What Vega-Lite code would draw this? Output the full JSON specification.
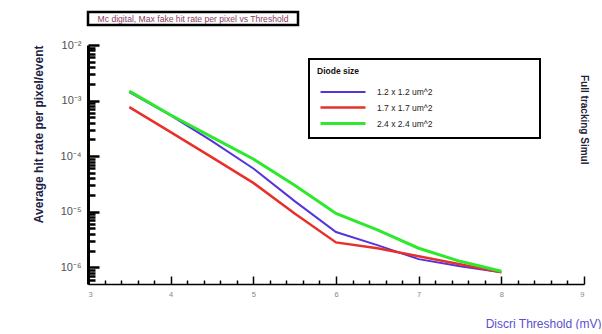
{
  "$schema": "https://vega.github.io/schema/vega-lite/v6.json",
  "padding": {"left": 32, "top": 10, "right": 0, "bottom": 0},
  "background": "white",
  "config": {"font": "Liberation Sans"},
  "columns": 1,
  "align": "none",
  "spacing": 12,
  "concat": [
    {
      "width": 210,
      "height": 13,
      "view": {"stroke": "black", "strokeWidth": 2.5, "fill": "white"},
      "data": {"values": [{"label": "Mc digital, Max fake hit rate per pixel vs Threshold"}]},
      "mark": {"type": "text", "fontSize": 8.6, "color": "#8c3c64", "font": "Liberation Sans"},
      "encoding": {"text": {"field": "label", "type": "nominal"}}
    },
    {
      "width": 496,
      "height": 239,
      "view": {"stroke": null},
      "title": {"text": "Full tracking Simul", "orient": "right", "anchor": "start", "offset": -22, "dx": 36, "fontSize": 10, "fontWeight": "bold", "color": "#222233", "font": "Liberation Sans"},
      "data": {"values": [
        {"size": "1.2 x 1.2 um^2", "threshold": 3.5, "rate": 1.42e-3},
        {"size": "1.2 x 1.2 um^2", "threshold": 4.0, "rate": 5.4e-4},
        {"size": "1.2 x 1.2 um^2", "threshold": 4.5, "rate": 1.86e-4},
        {"size": "1.2 x 1.2 um^2", "threshold": 5.0, "rate": 6.0e-5},
        {"size": "1.2 x 1.2 um^2", "threshold": 5.5, "rate": 1.55e-5},
        {"size": "1.2 x 1.2 um^2", "threshold": 6.0, "rate": 4.3e-6},
        {"size": "1.2 x 1.2 um^2", "threshold": 6.5, "rate": 2.5e-6},
        {"size": "1.2 x 1.2 um^2", "threshold": 7.0, "rate": 1.4e-6},
        {"size": "1.2 x 1.2 um^2", "threshold": 7.5, "rate": 1.04e-6},
        {"size": "1.2 x 1.2 um^2", "threshold": 8.0, "rate": 8.1e-7},
        {"size": "1.7 x 1.7 um^2", "threshold": 3.5, "rate": 7.6e-4},
        {"size": "1.7 x 1.7 um^2", "threshold": 4.0, "rate": 2.7e-4},
        {"size": "1.7 x 1.7 um^2", "threshold": 4.5, "rate": 9.5e-5},
        {"size": "1.7 x 1.7 um^2", "threshold": 5.0, "rate": 3.3e-5},
        {"size": "1.7 x 1.7 um^2", "threshold": 5.5, "rate": 9.3e-6},
        {"size": "1.7 x 1.7 um^2", "threshold": 6.0, "rate": 2.8e-6},
        {"size": "1.7 x 1.7 um^2", "threshold": 6.5, "rate": 2.2e-6},
        {"size": "1.7 x 1.7 um^2", "threshold": 7.0, "rate": 1.58e-6},
        {"size": "1.7 x 1.7 um^2", "threshold": 7.5, "rate": 1.13e-6},
        {"size": "1.7 x 1.7 um^2", "threshold": 8.0, "rate": 8.1e-7},
        {"size": "2.4 x 2.4 um^2", "threshold": 3.5, "rate": 1.48e-3},
        {"size": "2.4 x 2.4 um^2", "threshold": 4.0, "rate": 5.5e-4},
        {"size": "2.4 x 2.4 um^2", "threshold": 4.5, "rate": 2.2e-4},
        {"size": "2.4 x 2.4 um^2", "threshold": 5.0, "rate": 8.9e-5},
        {"size": "2.4 x 2.4 um^2", "threshold": 5.5, "rate": 3.0e-5},
        {"size": "2.4 x 2.4 um^2", "threshold": 6.0, "rate": 9.3e-6},
        {"size": "2.4 x 2.4 um^2", "threshold": 6.5, "rate": 4.7e-6},
        {"size": "2.4 x 2.4 um^2", "threshold": 7.0, "rate": 2.2e-6},
        {"size": "2.4 x 2.4 um^2", "threshold": 7.5, "rate": 1.28e-6},
        {"size": "2.4 x 2.4 um^2", "threshold": 8.0, "rate": 8.5e-7}
      ]},
      "mark": {"type": "line"},
      "encoding": {
        "x": {
          "field": "threshold", "type": "quantitative",
          "scale": {"domain": [3, 9], "nice": false, "zero": false},
          "axis": {
            "values": [3, 3.2, 3.4, 3.6, 3.8, 4, 4.2, 4.4, 4.6, 4.8, 5, 5.2, 5.4, 5.6, 5.8, 6, 6.2, 6.4, 6.6, 6.8, 7, 7.2, 7.4, 7.6, 7.8, 8, 8.2, 8.4, 8.6, 8.8, 9],
            "labelExpr": "datum.value % 1 == 0 ? format(datum.value, 'd') : ''",
            "tickSize": {"condition": {"test": "datum.value % 1 == 0", "value": -8}, "value": -4},
            "tickWidth": 1.5, "tickColor": "black",
            "domainColor": "black", "domainWidth": 1.5,
            "grid": false,
            "labelFontSize": 7.5, "labelColor": "#888888", "labelPadding": 14,
            "title": "Discri Threshold (mV)",
            "titleFontSize": 12, "titleColor": "#5b4fcf", "titleFontWeight": "normal",
            "titleAnchor": "end", "titleAlign": "right", "titleX": 513, "titleY": 39, "titleBaseline": "middle"
          }
        },
        "y": {
          "field": "rate", "type": "quantitative",
          "scale": {"type": "log", "domain": [5e-7, 1e-2], "nice": false},
          "axis": {
            "values": [0.01, 0.009, 0.008, 0.007, 0.006, 0.005, 0.004, 0.003, 0.002,
                       0.001, 0.0009, 0.0008, 0.0007, 0.0006, 0.0005, 0.0004, 0.0003, 0.0002,
                       1e-4, 9e-5, 8e-5, 7e-5, 6e-5, 5e-5, 4e-5, 3e-5, 2e-5,
                       1e-5, 9e-6, 8e-6, 7e-6, 6e-6, 5e-6, 4e-6, 3e-6, 2e-6,
                       1e-6, 9e-7, 8e-7, 7e-7, 6e-7],
            "labelExpr": "datum.value == 0.01 ? '10⁻²' : datum.value == 0.001 ? '10⁻³' : datum.value == 1e-4 ? '10⁻⁴' : datum.value == 1e-5 ? '10⁻⁵' : datum.value == 1e-6 ? '10⁻⁶' : ''",
            "tickSize": {"condition": {"test": "datum.value == 0.01 || datum.value == 0.001 || datum.value == 1e-4 || datum.value == 1e-5 || datum.value == 1e-6", "value": -11}, "value": -7},
            "tickWidth": 2.5, "tickColor": "black",
            "domainColor": "black", "domainWidth": 3,
            "grid": false,
            "labelFontSize": 11, "labelColor": "#505050", "labelPadding": 18,
            "title": "Average hit rate per pixel/event",
            "titleFontSize": 12, "titleFontWeight": "bold", "titleColor": "#222244",
            "titleAnchor": "end", "titlePadding": 15
          }
        },
        "color": {
          "field": "size", "type": "ordinal",
          "scale": {"domain": ["1.2 x 1.2 um^2", "1.7 x 1.7 um^2", "2.4 x 2.4 um^2"], "range": ["#5533dd", "#e8302a", "#2ee82e"]},
          "legend": {
            "title": "Diode size", "orient": "none", "legendX": 221, "legendY": 47,
            "padding": 8, "strokeColor": "black", "fillColor": "white",
            "titleFontSize": 8.5, "titleFontWeight": "bold", "titleColor": "#111111", "titlePadding": 6.5,
            "labelFontSize": 8.5, "labelColor": "#222222",
            "labelExpr": "pad(datum.label, 56, '\u00a0') + '\u200b'",
            "symbolType": "M-2.5,0H2.5", "symbolSize": 324, "symbolOffset": 15.5, "labelOffset": 23.5, "rowPadding": 0,
            "encode": {"legend": {"update": {"strokeWidth": {"value": 2}}}}
          }
        },
        "strokeWidth": {
          "field": "size", "type": "ordinal",
          "scale": {"domain": ["1.2 x 1.2 um^2", "1.7 x 1.7 um^2", "2.4 x 2.4 um^2"], "range": [2, 3, 3.5]},
          "legend": {
            "title": "Diode size", "orient": "none", "legendX": 221, "legendY": 47,
            "padding": 8, "strokeColor": "black", "fillColor": "white",
            "titleFontSize": 8.5, "titleFontWeight": "bold", "titleColor": "#111111", "titlePadding": 6.5,
            "labelFontSize": 8.5, "labelColor": "#222222",
            "labelExpr": "pad(datum.label, 56, '\u00a0') + '\u200b'",
            "symbolType": "M-2.5,0H2.5", "symbolSize": 324, "symbolOffset": 15.5, "labelOffset": 23.5, "rowPadding": 0,
            "encode": {"legend": {"update": {"strokeWidth": {"value": 2}}}}
          }
        }
      }
    }
  ]
}
